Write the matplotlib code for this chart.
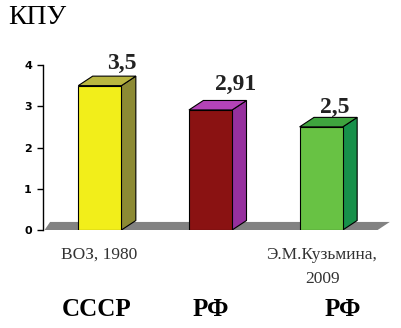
import numpy as np
import matplotlib
matplotlib.use('Agg')
import matplotlib.pyplot as plt
from matplotlib.patches import Polygon

# data
values = [3.5, 2.91, 2.5]
value_labels = ["3,5", "2,91", "2,5"]
sources = ["ВОЗ, 1980", "", "Э.М.Кузьмина,\n2009"]
countries = ["СССР", "РФ", "РФ"]
front_colors = ["#f2ee1a", "#8a1212", "#68c244"]
side_colors = ["#8c8a34", "#96309e", "#17904a"]
top_colors = ["#b9b640", "#b443b8", "#3fa43e"]

W, H = 402, 328
fig = plt.figure(figsize=(W / 100, H / 100), dpi=100)
# y=0 at pixel 230, y=4 at pixel 65, left spine at pixel 43
ax = fig.add_axes([43 / W, 98 / H, (395 - 43) / W, 165 / H])

x = np.arange(len(values))
bw = 0.39
dx, dy = 0.13, 0.23

ax.set_xlim(-0.514, 2.667)
ax.set_ylim(0, 4)

# floor
floor = Polygon([(-0.5, 0), (-0.45, dy * 0.85), (2.62, dy * 0.85), (2.51, 0)],
                closed=True, facecolor="#828282", edgecolor="none",
                zorder=1, clip_on=False)
ax.add_patch(floor)

lab_dx = [0.2, 0.23, 0.12]
lab_dy = [0.3, 0.38, 0.25]
for i, v in enumerate(values):
    l, r = x[i] - bw / 2, x[i] + bw / 2
    ax.bar(x[i], v, width=bw, color=front_colors[i], edgecolor="black",
           linewidth=0.8, zorder=3)
    side = Polygon([(r, 0), (r + dx, dy), (r + dx, v + dy), (r, v)],
                   closed=True, facecolor=side_colors[i], edgecolor="black",
                   linewidth=0.8, zorder=2)
    top = Polygon([(l, v), (l + dx, v + dy), (r + dx, v + dy), (r, v)],
                  closed=True, facecolor=top_colors[i], edgecolor="black",
                  linewidth=0.8, zorder=2)
    ax.add_patch(side)
    ax.add_patch(top)
    ax.text(x[i] + lab_dx[i], v + dy + lab_dy[i], value_labels[i],
            ha="center", va="center", fontsize=17, fontweight="bold",
            family="Liberation Serif", color="#222222", clip_on=False)

for s in ["top", "right", "bottom"]:
    ax.spines[s].set_visible(False)
ax.spines["left"].set_linewidth(1.0)
ax.set_yticks([0, 1, 2, 3, 4])
ax.set_yticklabels(["0", "1", "2", "3", "4"], fontsize=8, fontweight="bold")
ax.tick_params(axis="y", length=4, width=1, pad=4)
ax.set_xticks([])

# source labels
fig.text(99 / W, 1 - 255 / H, "ВОЗ, 1980", ha="center", va="center",
         fontsize=12.5, family="Liberation Serif", color="#333333")
fig.text(322 / W, 1 - 255 / H, "Э.М.Кузьмина,", ha="center", va="center",
         fontsize=12.5, family="Liberation Serif", color="#333333")
fig.text(323 / W, 1 - 279 / H, "2009", ha="center", va="center",
         fontsize=12.5, family="Liberation Serif", color="#333333")

# country labels
for i, c in enumerate(countries):
    fig.text([97, 211, 343][i] / W, 1 - 310 / H, c, ha="center", va="center",
             fontsize=18, fontweight="bold", family="Liberation Serif")

fig.text(8 / W, 1 - 17 / H, "КПУ", ha="left", va="center", fontsize=20,
         family="Liberation Serif")

fig.savefig("out.png", dpi=100)
